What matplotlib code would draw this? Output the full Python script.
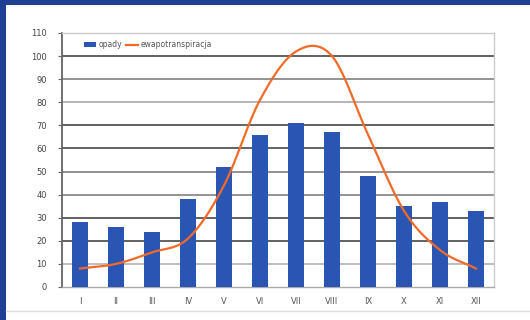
import numpy as np
import matplotlib
matplotlib.use("Agg")
import matplotlib.pyplot as plt
from matplotlib.patches import Rectangle
from matplotlib.lines import Line2D

months = ["I", "II", "III", "IV", "V", "VI", "VII", "VIII", "IX", "X", "XI", "XII"]
opady = [28, 26, 24, 38, 52, 66, 71, 67, 48, 35, 37, 33]
ewapotranspiracja = [8, 10, 15, 21, 44, 81, 102, 100, 66, 33, 16, 8]
yticks = list(range(0, 111, 10))

BAR_C = "#2b55b3"
LINE_C = "#f26a28"
FRAME_C = "#1f3f94"

fig = plt.figure(figsize=(5.3, 3.2), dpi=100)
fig.patch.set_facecolor("white")

# blue frame on top and left
fig.add_artist(Rectangle((0, 1 - 5 / 320), 1, 5 / 320, transform=fig.transFigure,
                         facecolor=FRAME_C, edgecolor="none", zorder=0))
fig.add_artist(Rectangle((0, 0), 6 / 530, 1, transform=fig.transFigure,
                         facecolor=FRAME_C, edgecolor="none", zorder=0))
# faint outer chart border
fig.add_artist(Line2D([6 / 530, 1], [1 - 311 / 320] * 2, transform=fig.transFigure,
                      color="#dcdcdc", lw=1))

ax = fig.add_axes([62 / 530, 1 - 287 / 320, 432 / 530, 254 / 320])
x = np.arange(len(months))
bars = ax.bar(x, opady, width=0.42, color=BAR_C, zorder=3, label="opady")


def catmull_rom(xs, ys, n=30):
    xs = np.asarray(xs, float)
    ys = np.asarray(ys, float)
    px = np.concatenate([[2 * xs[0] - xs[1]], xs, [2 * xs[-1] - xs[-2]]])
    py = np.concatenate([[2 * ys[0] - ys[1]], ys, [2 * ys[-1] - ys[-2]]])
    ox, oy = [], []
    t = np.linspace(0, 1, n, endpoint=False)
    for i in range(1, len(px) - 2):
        for arr, a in ((oy, py), (ox, px)):
            a0, a1, a2, a3 = a[i - 1], a[i], a[i + 1], a[i + 2]
            m1 = (a2 - a0) / 2
            m2 = (a3 - a1) / 2
            h00 = 2 * t**3 - 3 * t**2 + 1
            h10 = t**3 - 2 * t**2 + t
            h01 = -2 * t**3 + 3 * t**2
            h11 = t**3 - t**2
            arr.extend(h00 * a1 + h10 * m1 + h01 * a2 + h11 * m2)
    ox.append(xs[-1])
    oy.append(ys[-1])
    return np.array(ox), np.array(oy)


sx, sy = catmull_rom(x, ewapotranspiracja)
line, = ax.plot(sx, sy, color=LINE_C, lw=1.6, zorder=4, label="ewapotranspiracja")

ax.set_xlim(-0.5, len(months) - 0.5)
ax.set_ylim(0, 110)
ax.set_yticks(yticks)
ax.set_yticklabels([str(v) for v in yticks], fontsize=6, color="#444444")
ax.set_xticks(x)
ax.set_xticklabels(months, fontsize=6, color="#555555")
ax.tick_params(axis="x", length=0, pad=7)
ax.tick_params(axis="y", length=3, width=0.8, color="#666666", pad=8)

grid_colors = {10: "#b8b8b8", 20: "#555555", 30: "#555555", 40: "#8a8a8a",
               50: "#8a8a8a", 60: "#555555", 70: "#555555", 80: "#b0b0b0",
               90: "#8a8a8a", 100: "#555555"}
for v, c in grid_colors.items():
    ax.axhline(v, color=c, lw=1.3, zorder=1)

for s in ["top", "right"]:
    ax.spines[s].set_color("#cccccc")
    ax.spines[s].set_linewidth(1.0)
ax.spines["left"].set_color("#666666")
ax.spines["left"].set_linewidth(1.3)
ax.spines["bottom"].set_color("#aaaaaa")
ax.spines["bottom"].set_linewidth(1.0)

leg = ax.legend(handles=[bars, line], labels=["opady", "ewapotranspiracja"],
                loc="upper left", bbox_to_anchor=(0.04, 0.99), ncol=2, frameon=False,
                fontsize=5.5, handlelength=1.6, handleheight=0.6, handletextpad=0.3,
                columnspacing=0.5, borderaxespad=0.2)
for t in leg.get_texts():
    t.set_color("#555555")

fig.savefig("out.png", dpi=100, facecolor="white")
